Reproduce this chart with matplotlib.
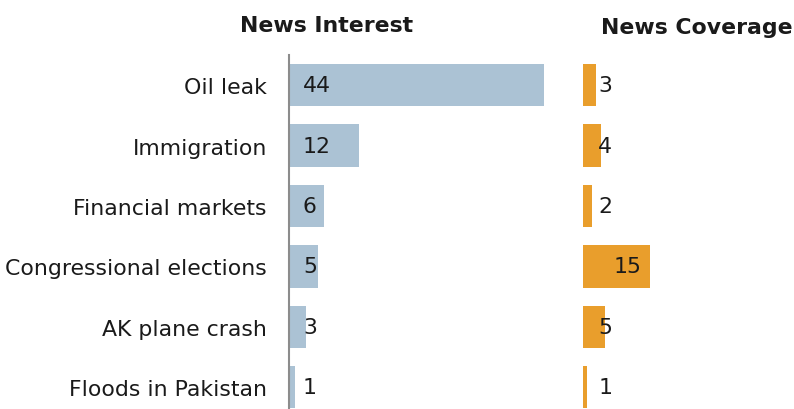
import matplotlib.pyplot as plt

# weekly news interest vs coverage, percent
topics = ["Oil leak", "Immigration", "Financial markets",
          "Congressional elections", "AK plane crash", "Floods in Pakistan"]
interest = [44, 12, 6, 5, 3, 1]
coverage = [3, 4, 2, 15, 5, 1]

blue = "#abc2d4"
orange = "#e99e2c"
txt = "#1a1a1a"
fs = 15.8

fig = plt.figure(figsize=(7.94, 4.10), dpi=100)
W, H = 794, 410

def px_axes(x0, y0, x1, y1):
    return fig.add_axes([x0 / W, 1 - y1 / H, (x1 - x0) / W, (y1 - y0) / H])

ax1 = px_axes(289, 56, 579, 410)
ax2 = px_axes(583, 56, 794, 410)

ypos = list(range(len(topics)))
for ax in (ax1, ax2):
    ax.set_ylim(len(topics) - 0.64, -0.5)
    for s in ax.spines.values():
        s.set_visible(False)
    ax.set_xticks([])
    ax.set_yticks([])

ax1.set_xlim(0, 50)
ax2.set_xlim(0, 47.2)

ax1.barh(ypos, interest, height=0.7, color=blue)
ax2.barh(ypos, coverage, height=0.7, color=orange)

ax1.spines["left"].set_visible(True)
ax1.spines["left"].set_color("#8c8c8c")
ax1.spines["left"].set_linewidth(1.5)

ax1.set_yticks(ypos)
ax1.set_yticklabels(topics, fontsize=fs, color=txt)
ax1.tick_params(axis="y", length=0, pad=16)

for y, v in zip(ypos, interest):
    ax1.text(2.4, y, str(v), va="center", ha="left", fontsize=fs, color=txt)

for y, v in zip(ypos, coverage):
    if v > 10:
        ax2.text(v - 2, y, str(v), va="center", ha="right", fontsize=fs, color=txt)
    else:
        ax2.text(3.4, y, str(v), va="center", ha="left", fontsize=fs, color=txt)

fig.text(327 / W, 1 - 26 / H, "News Interest", ha="center", va="center",
         fontsize=fs, fontweight="bold", color=txt)
fig.text(697 / W, 1 - 28 / H, "News Coverage", ha="center", va="center",
         fontsize=fs, fontweight="bold", color=txt)

fig.savefig("out.png", dpi=100)
